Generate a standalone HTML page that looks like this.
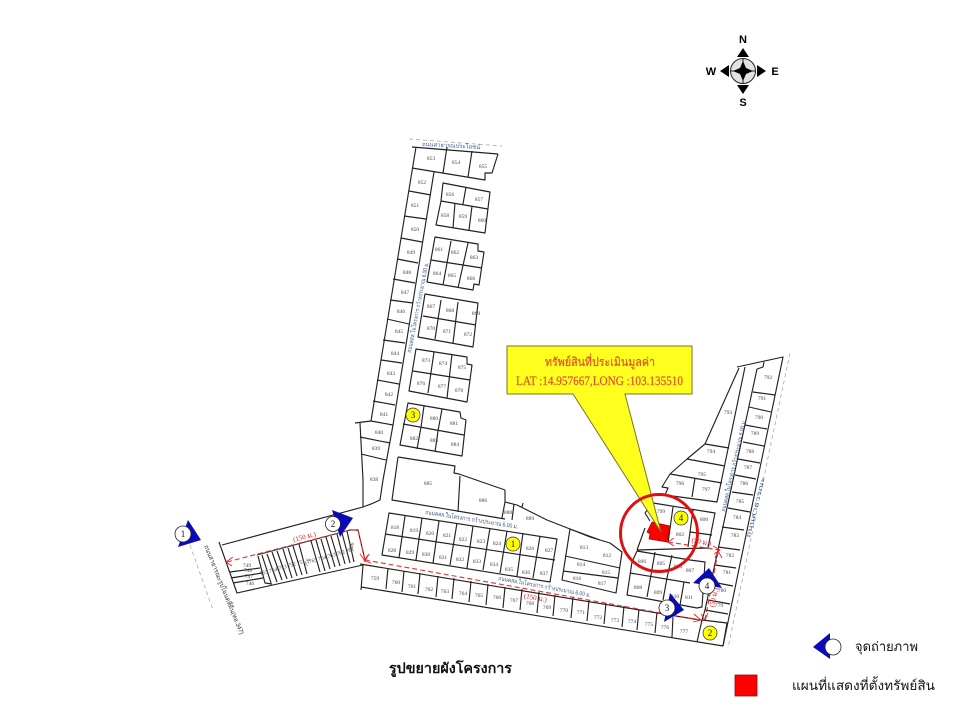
<!DOCTYPE html>
<html lang="th">
<head>
<meta charset="utf-8">
<title>รูปขยายผังโครงการ</title>
<style>
html,body{margin:0;padding:0;background:#fff}
svg{display:block}
.l{fill:none;stroke:#222;stroke-width:1.15;stroke-linejoin:round}
.r{fill:none;stroke:#ee2b2b;stroke-width:1.1;stroke-dasharray:5 3}
.g{fill:none;stroke:#aaa;stroke-width:.8;stroke-dasharray:4 3}
.n text{font:5.5px "Liberation Serif",serif;fill:#444;text-anchor:middle}
.b{font:6px "Liberation Sans","Noto Sans CJK SC",sans-serif;fill:#3a5a8c}
.m{font:9px "Liberation Serif",serif;fill:#111;text-anchor:middle}
.t{font-family:"Liberation Serif","Noto Serif CJK SC",serif;fill:#111}
</style>
</head>
<body>
<svg width="960" height="720" viewBox="0 0 960 720" xmlns="http://www.w3.org/2000/svg">
<rect width="960" height="720" fill="#fff"/>

<!-- Compass -->
<g>
<circle cx="743" cy="71" r="12.5" fill="#e2e2e2" stroke="#222" stroke-width="1"/>
<path d="M743 59V83M731 71H755" stroke="#222" stroke-width="1"/>
<path d="M743 61L746 68L753 71L746 74L743 81L740 74L733 71L740 68Z" fill="#000"/>
<path d="M743 48L749 57H737ZM743 94L749 85H737ZM720 71L729 65V77ZM766 71L757 65V77Z" fill="#000"/>
<g font-family="Liberation Sans,sans-serif" font-weight="700" font-size="11" text-anchor="middle" fill="#000">
<text x="743" y="43">N</text><text x="743" y="106">S</text><text x="711" y="75">W</text><text x="775" y="75">E</text>
</g>
</g>

<!-- Road labels / dotted -->
<path class="g" d="M409 139L502 146"/>
<path class="g" d="M790 353L728 648"/>
<path class="g" d="M190 545L213 610"/>
<text class="b" transform="translate(422,146) rotate(3)" textLength="58" lengthAdjust="spacingAndGlyphs">ถนนสาธารณประโยชน์</text>
<text class="b" transform="translate(411,353) rotate(-79)" textLength="92" lengthAdjust="spacingAndGlyphs">ถนนคสล.ในโครงการ กว้างประมาณ 6.00 ม.</text>
<text class="b" transform="translate(425,514) rotate(9)" textLength="94" lengthAdjust="spacingAndGlyphs">ถนนคสล.ในโครงการ กว้างประมาณ 6.00 ม.</text>
<text class="b" transform="translate(498,580) rotate(10.5)" textLength="94" lengthAdjust="spacingAndGlyphs">ถนนคสล.ในโครงการ กว้างประมาณ 6.00 ม.</text>
<text class="b" transform="translate(725,512) rotate(-77)" textLength="94" lengthAdjust="spacingAndGlyphs">ถนนคสล.ในโครงการ กว้างประมาณ 6.00 ม.</text>
<text class="b" transform="translate(750,538) rotate(-76)" textLength="62" lengthAdjust="spacingAndGlyphs">ถนนสาธารณะ</text>
<text transform="translate(204,546) rotate(68)" font-family="Liberation Sans,Noto Sans CJK SC,sans-serif" font-size="6.5" fill="#333" textLength="96" lengthAdjust="spacingAndGlyphs">ถนนสาธารณะรูปโฉนดที่ดิน(ทล.347)</text>

<!-- North block -->
<g class="l">
<path d="M412 147L498 154M416 147L371 421M355 423L371 421M434 172L393 425"/>
<path d="M412 168L485 180V173H492L498 154M447 147L443 173M472 151L468 177"/>
<path d="M409 191L431 195M404 216L426 219M401 238L422 242M397 259L418 263M393 279L415 283M390 300L413 303M387 319L409 324M383 340L405 343M381 360L402 363M377 380L399 384M373 401L395 405M371 421L393 425"/>
<path d="M360 423L363 480V507M393 425L383 480L380 500Q372 504 363 507M360 437L390 443M361 454L386 460"/>
<path d="M443 183L490 192L485 233L436 225L441 201ZM441 201L488 209M466 187L463 204M455 203L453 228M472 206L469 230"/>
<path d="M435 237L478 244V251L484 252L479 285L474 284L473 290L427 282ZM431 260L482 268M451 241L443 285M468 243L458 288"/>
<path d="M425 294L478 303L473 347L418 337ZM423 316L476 325M441 300L435 339M458 302L453 343"/>
<path d="M416 349L467 357V364L472 365L467 402L409 391ZM413 371L470 380M434 352L428 393M452 354L447 398"/>
<path d="M408 403L460 412L461 418L466 420L462 456L400 445ZM403 424L464 435M424 406L421 427L417 449M442 409L438 431L435 452"/>
<path d="M398 457L455 466L454 473L459 474L505 490M398 457L392 500L505 519M460 476L458 512M505 490V502L502 518M505 502L517 505L547 520L570 529L600 540M514 504L512 520M523 503L522 507"/>
</g>

<!-- Access road and strip -->
<g class="l">
<path d="M222 545L363 507M219 542L237 593L363 565M257 555L350 530H358L365 560M230 572L260 568M231 578L262 573M233 583L263 578"/>
<path d="M258 556L265 583L272 584M262 555L271 583M267 554L277 582M272 552L282 580M277 551L287 579M283 549L292 578M288 548L297 576M293 546L302 575M299 544L307 574M311 541L320 572M316 540L325 571M321 539L330 569M326 537L335 567M331 536L340 566M337 534L345 564M342 533L350 563M347 531L354 562"/>
</g>

<!-- Middle blocks -->
<g class="l">
<path d="M389 513L557 539L550 582L382 555ZM385 534L555 560"/>
<path d="M405 516L399 558M422 518L416 560M439 521L433 563M457 523L450 565M473 526L467 568M490 528L483 570M507 531L500 573M523 533L517 576M540 536L533 578"/>
<path d="M360 564L700 620M361 587L723 646M363 565L361 590M723 646L727 623L702 620L697 642"/>
<path d="M388 568L386 589M404 571L402 592M420 573L418 594M438 576L436 597M454 578L452 599M471 581L469 602M488 584L486 605M505 587L503 608M522 589L520 610M539 592L537 613M555 595L553 616M573 597L571 618M589 600L587 621M606 603L604 624M624 606L622 627M639 609L637 630M657 612L655 633M673 617L672 637"/>
<path d="M570 529L562 580L616 593L622 552L610 543L590 537L570 529M565 556L620 568M563 571L618 578"/>
</g>

<!-- East block -->
<g class="l">
<path d="M737 367L783 357L723 646M739 368L705 444L687 459L670 474L662 487L668 488L665 495L717 502L745 367"/>
<path d="M757 369L763 367L764 362M757 369L705 610L702 620"/>
<path d="M753 392L775 395M749 407L771 412M745 425L767 429M743 442L764 446M738 459L760 463M735 475L756 479M732 492L753 495M728 508L750 512M722 527L744 530M718 547L740 550M715 565L736 568M712 582L733 586M708 600L730 604M705 610L728 614"/>
<path d="M705 444L729 448M687 459L725 466M670 474L722 483M695 478L692 497"/>
<path d="M645 513L653 503L715 513L708 548L637 550M645 513L650 521M645 528L637 550M673 507L668 543M693 510L688 547M690 532L712 535"/>
<path d="M637 551L690 560L705 562L702 607L697 608L627 595L632 562L637 551M630 573L690 583M655 552L651 575M672 555L667 578M651 575L647 597M667 578L663 600M684 582L680 605"/>
</g>

<!-- Red site marker -->
<path d="M652 522L670 526L667 542L649 539L650 534L647 532Z" fill="#f00" stroke="#900" stroke-width=".7"/>

<!-- Lot numbers -->
<g class="n">
<text x="431" y="160">853</text><text x="456" y="164">854</text><text x="483" y="168">855</text><text x="422" y="184">852</text><text x="415" y="207">851</text><text x="415" y="231">850</text><text x="411" y="254">849</text><text x="407" y="274">848</text><text x="405" y="294">847</text><text x="450" y="196">856</text><text x="479" y="201">857</text><text x="445" y="217">858</text><text x="463" y="218">859</text><text x="482" y="222">860</text><text x="439" y="251">861</text><text x="455" y="254">862</text><text x="474" y="259">863</text><text x="437" y="275">864</text><text x="452" y="277">865</text><text x="471" y="280">866</text><text x="431" y="308">867</text><text x="450" y="312">868</text><text x="476" y="315">869</text>
<text x="401" y="313">846</text><text x="399" y="333">845</text><text x="395" y="355">844</text><text x="391" y="375">843</text><text x="389" y="396">842</text><text x="384" y="416">841</text><text x="379" y="434">840</text><text x="376" y="450">839</text><text x="374" y="481">838</text><text x="431" y="330">870</text><text x="447" y="333">871</text><text x="468" y="336">872</text><text x="426" y="362">873</text><text x="443" y="365">874</text><text x="462" y="369">875</text><text x="421" y="385">876</text><text x="442" y="388">877</text><text x="459" y="392">878</text><text x="434" y="420">880</text><text x="454" y="425">881</text><text x="414" y="440">882</text><text x="434" y="442">883</text><text x="455" y="446">884</text><text x="428" y="485">885</text><text x="483" y="502">886</text><text x="508" y="514">888</text><text x="530" y="520">889</text>
<text x="395" y="529">818</text><text x="414" y="532">819</text><text x="430" y="535">820</text><text x="447" y="537">821</text><text x="463" y="541">822</text><text x="481" y="543">823</text><text x="497" y="545">824</text><text x="530" y="550">826</text><text x="549" y="552">827</text>
<text x="392" y="552">828</text><text x="410" y="554">829</text><text x="426" y="556">830</text><text x="443" y="559">831</text><text x="460" y="561">832</text><text x="477" y="563">833</text><text x="494" y="566">834</text><text x="509" y="571">835</text><text x="526" y="574">836</text><text x="544" y="575">837</text>
<text x="584" y="549">813</text><text x="581" y="566">814</text><text x="577" y="580">816</text><text x="607" y="557">812</text><text x="606" y="574">815</text><text x="602" y="585">817</text>
<text x="375" y="580">759</text><text x="396" y="584">760</text><text x="412" y="588">761</text><text x="429" y="591">762</text><text x="445" y="593">763</text><text x="463" y="595">764</text><text x="479" y="597">765</text><text x="497" y="599">766</text><text x="514" y="602">767</text><text x="530" y="605">768</text><text x="547" y="609">769</text><text x="564" y="612">770</text><text x="581" y="614">771</text><text x="598" y="619">772</text><text x="615" y="622">773</text><text x="632" y="623">774</text><text x="649" y="626">775</text><text x="665" y="629">776</text><text x="684" y="633">777</text>
<text x="638" y="589">808</text><text x="661" y="565">805</text><text x="642" y="563">806</text><text x="658" y="594">809</text><text x="675" y="598">810</text><text x="689" y="599">811</text><text x="690" y="572">807</text><text x="678" y="568">804</text><text x="661" y="513">799</text><text x="704" y="521">800</text><text x="680" y="536">802</text>
<text x="768" y="379">792</text><text x="762" y="400">791</text><text x="759" y="419">790</text><text x="755" y="435">789</text><text x="750" y="453">788</text><text x="748" y="469">787</text><text x="744" y="485">786</text><text x="740" y="503">785</text><text x="737" y="519">784</text><text x="735" y="537">783</text><text x="730" y="557">782</text><text x="727" y="574">781</text><text x="722" y="592">780</text><text x="719" y="607">779</text><text x="728" y="414">793</text><text x="711" y="453">794</text><text x="702" y="476">795</text><text x="680" y="485">796</text><text x="706" y="491">797</text>
<text x="247" y="567">749</text><text x="248" y="572">748</text><text x="249" y="578">747</text><text x="250" y="585">746</text>
<text transform="translate(283,569) rotate(-16)">755 754 753 752 751</text><text transform="translate(332,557) rotate(-16)">765 764 763 762 761</text><text transform="translate(309,563) rotate(-76)">756</text><text transform="translate(353,547) rotate(-76)">766</text>
</g>

<!-- Red dimension lines -->
<g>
<path class="r" d="M227 562L350 530H358L365 560"/>
<path class="r" d="M365 560L700 620"/>
<path class="r" d="M705 620L718 552"/>
<path class="r" d="M668 542L720 550"/>
<path d="M233 557L226 562L232 566M360 554L365 561L369 554M368 555L364 561L371 563M694 614L701 620L693 622M701 614L705 620L708 613M674 538L668 542L674 546M713 546L720 550L714 554M715 558L718 551L722 558" fill="none" stroke="#e22" stroke-width=".9"/>
<g font-family="Liberation Serif,Noto Serif CJK SC,serif" font-size="7" fill="#e02020" text-anchor="middle">
<text transform="translate(305,539) rotate(-15)">(150 ม.)</text>
<text transform="translate(535,600) rotate(10)">(150 ม.)</text>
<text transform="translate(701,544) rotate(10)">(50 ม.)</text>
<text transform="translate(716,598) rotate(-78)">(50 ม.)</text>
</g>
</g>

<!-- Callout -->
<path d="M507 346H692V394H625L661 532L573 394H507Z" fill="#ffff1e" stroke="#77752a" stroke-width="1"/>
<text x="545" y="366" font-family="Liberation Serif,Noto Serif CJK SC,serif" font-size="12" fill="#e0502a" stroke="#e0502a" stroke-width=".2" textLength="110" lengthAdjust="spacingAndGlyphs">ทรัพย์สินที่ประเมินมูลค่า</text>
<text x="516" y="385" font-family="Liberation Serif,serif" font-size="12.5" fill="#e0502a" stroke="#e0502a" stroke-width=".2" textLength="167" lengthAdjust="spacingAndGlyphs">LAT :14.957667,LONG :103.135510</text>
<circle cx="659" cy="533" r="38.5" fill="none" stroke="#e01010" stroke-width="3"/>

<!-- Yellow circles -->
<g fill="#ffff00" stroke="#333" stroke-width=".7">
<circle cx="513" cy="544" r="7"/><circle cx="710" cy="633" r="7"/><circle cx="413" cy="415" r="7"/><circle cx="681" cy="518" r="7"/>
</g>
<g class="m"><text x="513" y="547">1</text><text x="710" y="636">2</text><text x="413" y="418">3</text><text x="681" y="521">4</text></g>

<!-- Photo markers -->
<g fill="#0a0ab8">
<path d="M188 520L201 540L178 547Z"/>
<path d="M332 510L353 518L340 537Z"/>
<path d="M670 593L684 610L664 622Z"/>
<path d="M709 568L693 583L722 588Z"/>
<path d="M830 633L813 647L830 659Z"/>
</g>
<g fill="#fff" stroke="#222" stroke-width=".8">
<circle cx="183" cy="534" r="8"/><circle cx="333" cy="524" r="7.5"/><circle cx="667" cy="608" r="8"/><circle cx="707" cy="586" r="8"/><circle cx="833" cy="647" r="8"/>
</g>
<g class="m"><text x="183" y="537">1</text><text x="333" y="527">2</text><text x="667" y="611">3</text><text x="707" y="589">4</text></g>

<!-- Legend and title -->
<text class="t" x="855" y="651" font-size="13" textLength="63" lengthAdjust="spacingAndGlyphs">จุดถ่ายภาพ</text>
<rect x="735" y="675" width="22" height="21" fill="#f00" stroke="#8a1010" stroke-width=".8"/>
<text class="t" x="792" y="690" font-size="13" textLength="143" lengthAdjust="spacingAndGlyphs">แผนที่แสดงที่ตั้งทรัพย์สิน</text>
<text class="t" x="389" y="673" font-size="14" font-weight="700" textLength="123" lengthAdjust="spacingAndGlyphs">รูปขยายผังโครงการ</text>
</svg>
</body>
</html>
